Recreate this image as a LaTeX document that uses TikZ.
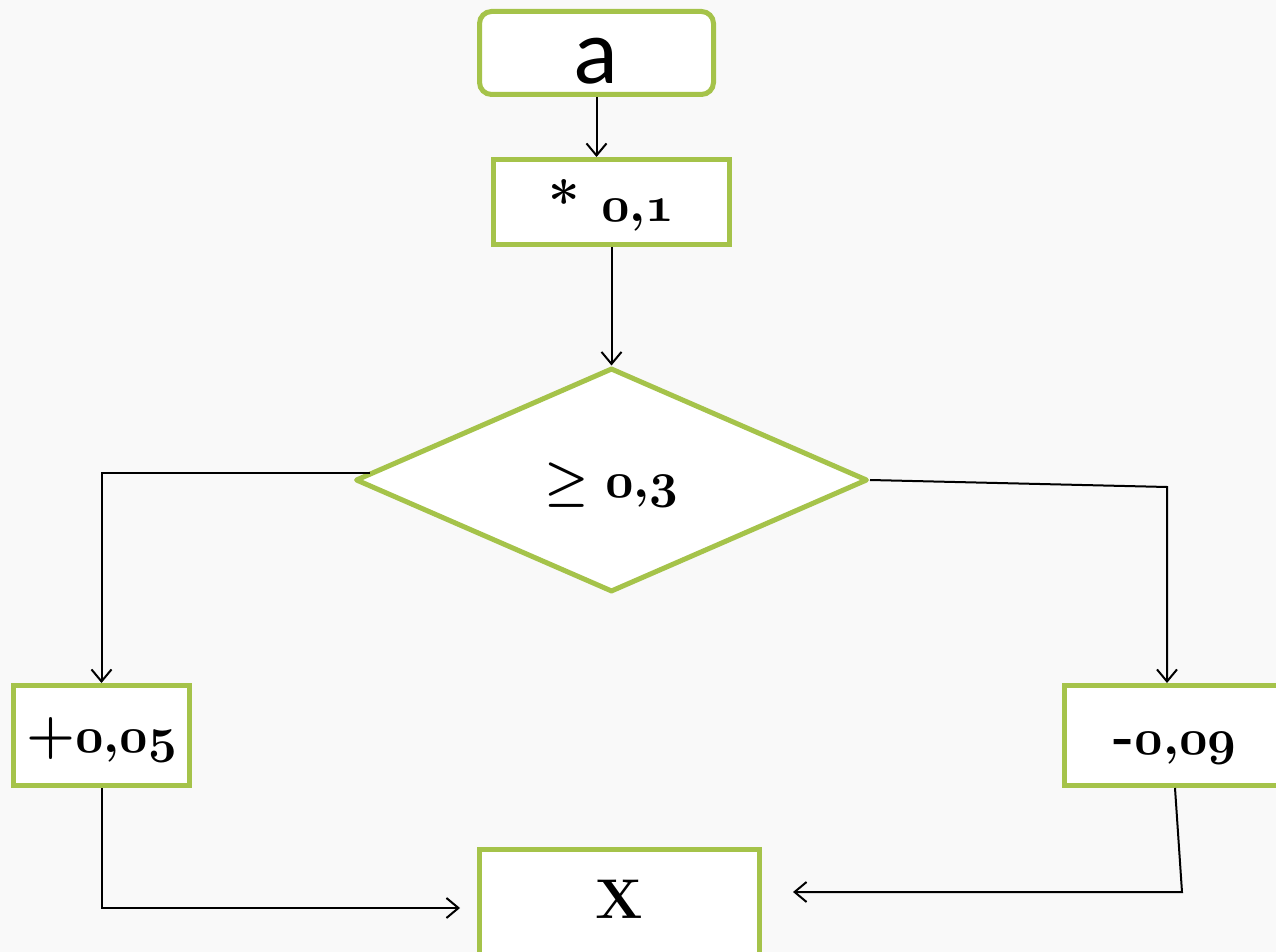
\documentclass[tikz,border=0pt]{standalone}
\usepackage{fontspec}
\newfontfamily\letterfont{Lato}
\usetikzlibrary{shapes.geometric,arrows.meta}
\definecolor{leaf}{HTML}{A5C34A}
\definecolor{paper}{HTML}{F9F9F9}
\newcommand\osn[1]{{\fontsize{31}{33}\selectfont\boldmath$\mathnormal{#1}$}}

\begin{document}
\begin{tikzpicture}[x=0.5pt,y=-0.5pt,
    op/.style={draw=leaf, line width=2.5pt, fill=white, inner sep=0pt,
      font=\fontsize{28}{30}\selectfont\bfseries, text height=20pt, text depth=3pt},
    test/.style={op, shape=diamond, line join=round,
      minimum width=256pt, minimum height=112pt},
    arr/.style={-{Straight Barb[length=6pt,width=10pt]}, line width=1pt}]
    \path[use as bounding box, fill=paper] (0,0) rectangle (1276,952);
    \node [op, rounded corners=6pt, minimum width=117pt, minimum height=41.5pt,
      font=\fontsize{44}{46}\selectfont\letterfont, text height=31pt, text depth=0pt]
      (a) at (596.5,53) {a};
    \node [op, minimum width=118pt, minimum height=42.5pt, text height=22pt, text depth=2.5pt]
      (mul) at (611.5,202) {* \osn{0{,}1}};
    \node [test] (cmp) at (611.5,480) {\osn{\geq 0{,}3}};
    \node [op, minimum width=88pt, minimum height=50pt] (plus) at (101.5,735.5) {+\osn{0{,}05}};
    \node [op, minimum width=110.5pt, minimum height=50pt, text height=22pt]
      (minus) at (1175,735.5) {-\osn{0{,}09}};
    \node [op, minimum width=140pt, minimum height=53.5pt, text height=18pt, text depth=3pt]
      (res) at (619.5,903) {X};
    \coordinate (lout) at (370,473);
    \coordinate (rturn) at (1167,487);
    \coordinate (lin) at (460,908);
    \coordinate (rdown) at (1182,892);
    \coordinate (rin) at (793,892);
    \draw [arr] (a) -- (a |- mul.north);
    \draw [arr] (mul) -- (cmp);
    \draw [arr] (lout) -| (plus);
    \draw [arr] (cmp.east) -- (rturn) -- (rturn |- minus.north);
    \draw [arr] (plus) |- (lin);
    \draw [arr] (minus.south) -- (rdown) -- (rin);
\end{tikzpicture}
\end{document}
